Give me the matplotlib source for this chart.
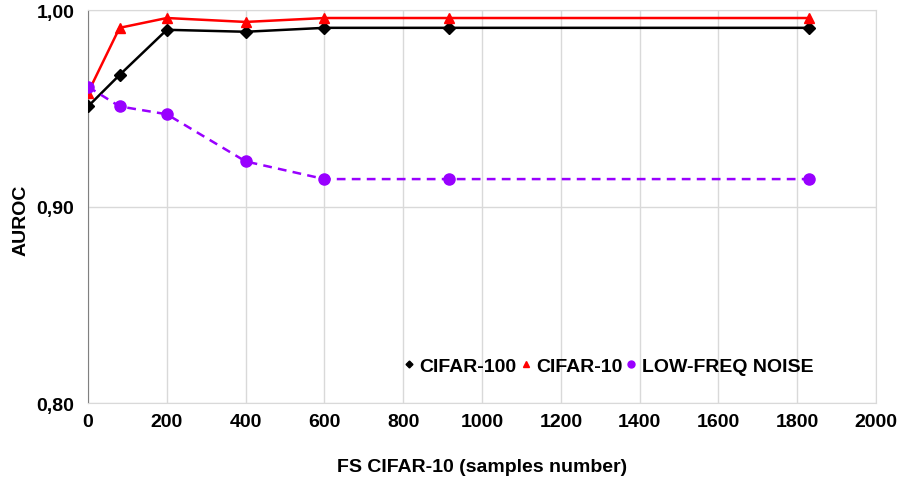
import matplotlib.pyplot as plt
from matplotlib.lines import Line2D
from matplotlib.ticker import FuncFormatter

samples = [0, 80, 200, 400, 600, 915, 1830]
cifar100 = [0.951, 0.967, 0.990, 0.989, 0.991, 0.991, 0.991]
cifar10 = [0.958, 0.991, 0.996, 0.994, 0.996, 0.996, 0.996]
low_freq = [0.961, 0.951, 0.947, 0.923, 0.914, 0.914, 0.914]

x_ticks = list(range(0, 2001, 200))
y_ticks = [0.80, 0.90, 1.00]

PURPLE = "#9900FF"

plt.rcParams['font.family'] = ['Liberation Sans', 'DejaVu Sans']
plt.rcParams['font.weight'] = 'bold'

fig = plt.figure(figsize=(9.01, 4.85), dpi=100)
ax = fig.add_axes([0.0977, 0.167, 0.8746, 0.810])

ax.plot(samples, cifar100, color="black", lw=1.8, marker="D", ms=6, zorder=3)
ax.plot(samples, cifar10, color="red", lw=1.8, marker="^", ms=7, zorder=3)
ax.plot(samples, low_freq, color=PURPLE, lw=1.8, ls=(0, (3.5, 2.5)), marker="o", ms=8, zorder=3)

ax.set_xlim(0, 2000)
ax.set_ylim(0.80, 1.00)
ax.set_xticks(x_ticks)
ax.set_yticks(y_ticks)
ax.yaxis.set_major_formatter(FuncFormatter(lambda v, p: f"{v:.2f}".replace(".", ",")))
ax.tick_params(length=0, labelsize=14)
ax.tick_params(axis="y", pad=10)
ax.tick_params(axis="x", pad=7)
for lab in ax.get_xticklabels() + ax.get_yticklabels():
    lab.set_fontweight('bold')

ax.grid(True, color="#D9D9D9", lw=1)
ax.set_axisbelow(True)
for side in ["top", "right", "bottom"]:
    ax.spines[side].set_color("#D9D9D9")
ax.spines["left"].set_color("#808080")

ax.set_xlabel("FS CIFAR-10 (samples number)", fontsize=14, fontweight='bold', labelpad=20)
# y label placed by hand, the default one gets pushed off the left edge
fig.text(0.023, 0.546, "AUROC", rotation=90, fontsize=14, fontweight='bold',
         ha="center", va="center")

handles = [
    Line2D([], [], color="black", marker="D", ls="none", ms=3.5),
    Line2D([], [], color="red", marker="^", ms=4, ls="none"),
    Line2D([], [], color=PURPLE, marker="o", ms=5, ls="none"),
]
ax.legend(handles, ["CIFAR-100", "CIFAR-10", "LOW-FREQ NOISE"], loc="center",
          bbox_to_anchor=(0.661, 0.094), ncol=3, frameon=False, fontsize=14,
          handlelength=0.5, handletextpad=0.3, columnspacing=0.2)

fig.savefig("out.png", dpi=100)
